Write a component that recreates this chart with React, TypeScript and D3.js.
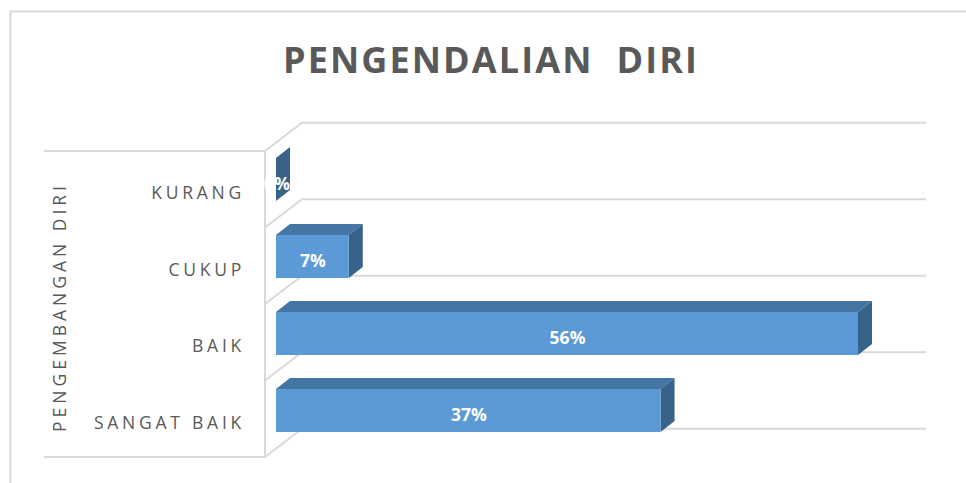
import React from "react";
import * as d3 from "d3";

const categories = ["KURANG", "CUKUP", "BAIK", "SANGAT BAIK"];
const values = [0, 7, 56, 37];
const title = "PENGENDALIAN  DIRI";
const yAxisTitle = "PENGEMBANGAN DIRI";

const W = 966, H = 483;
const FONT = "'Open Sans', sans-serif";
const GRID = "#d9d9d9";
const dx = 14, dy = -11;
const wdx = 37, wdy = -28.3;

export default function App() {
  const x = d3.scaleLinear().domain([0, 56]).range([276, 858]);
  const wall = d3.scaleBand<string>().domain(categories).range([151, 457]);
  const y = d3.scaleBand<string>().domain(categories).range([158, 466]);
  const barH = 43;
  const gridYs = d3.range(categories.length + 1).map((i) => 151 + i * wall.step());
  return (
    <svg width={W} height={H} style={{ position: "absolute", left: 0, top: 0 }} xmlns="http://www.w3.org/2000/svg">
      <rect width={W} height={H} fill="#fff" />
      <path d={`M10.5 483V11.5H966`} fill="none" stroke={GRID} strokeWidth={2} />
      <text x={491} y={73} textAnchor="middle" fontFamily={FONT} fontWeight={700} fontSize={36} letterSpacing={2.1} fill="#595959" style={{ whiteSpace: "pre" }}>{title}</text>

      {/* wall and floor */}
      <line x1={44} x2={265} y1={151} y2={151} stroke={GRID} strokeWidth={2} />
      <line x1={44} x2={265} y1={457} y2={457} stroke={GRID} strokeWidth={2} />
      <line x1={265} x2={265} y1={151} y2={457} stroke={GRID} strokeWidth={2} />
      {gridYs.map((gy) => (
        <path key={gy} d={`M265 ${gy}L${265 + wdx} ${gy + wdy}H926`} fill="none" stroke={GRID} strokeWidth={2} />
      ))}

      {/* bars */}
      {categories.map((c, i) => {
        const x0 = x(0), x1 = x(values[i]);
        const top = y(c) as number;
        const bot = top + barH;
        return (
          <g key={c}>
            <path d={`M${x0} ${top}L${x0 + dx} ${top + dy}H${x1 + dx}L${x1} ${top}Z`} fill="#4575a3" />
            <path d={`M${x1} ${top}L${x1 + dx} ${top + dy}V${bot + dy}L${x1} ${bot}Z`} fill="#386288" />
            <rect x={x0} y={top} width={x1 - x0} height={barH} fill="#5b9ad7" />
            <text x={values[i] === 0 ? 277 : (x0 + x1) / 2 + 0.5} y={top + 32} textAnchor="middle" fontFamily={FONT} fontWeight={700} fontSize={17.5} fill="#fff">{values[i]}%</text>
            <text x={245} y={(wall(c) as number) + 48} textAnchor="end" fontFamily={FONT} fontSize={17.5} letterSpacing={3.75} fill="#595959">{c}</text>
          </g>
        );
      })}

      <text transform="translate(66,307) rotate(-90)" textAnchor="middle" fontFamily={FONT} fontSize={17.5} letterSpacing={4} fill="#595959">{yAxisTitle}</text>
    </svg>
  );
}
